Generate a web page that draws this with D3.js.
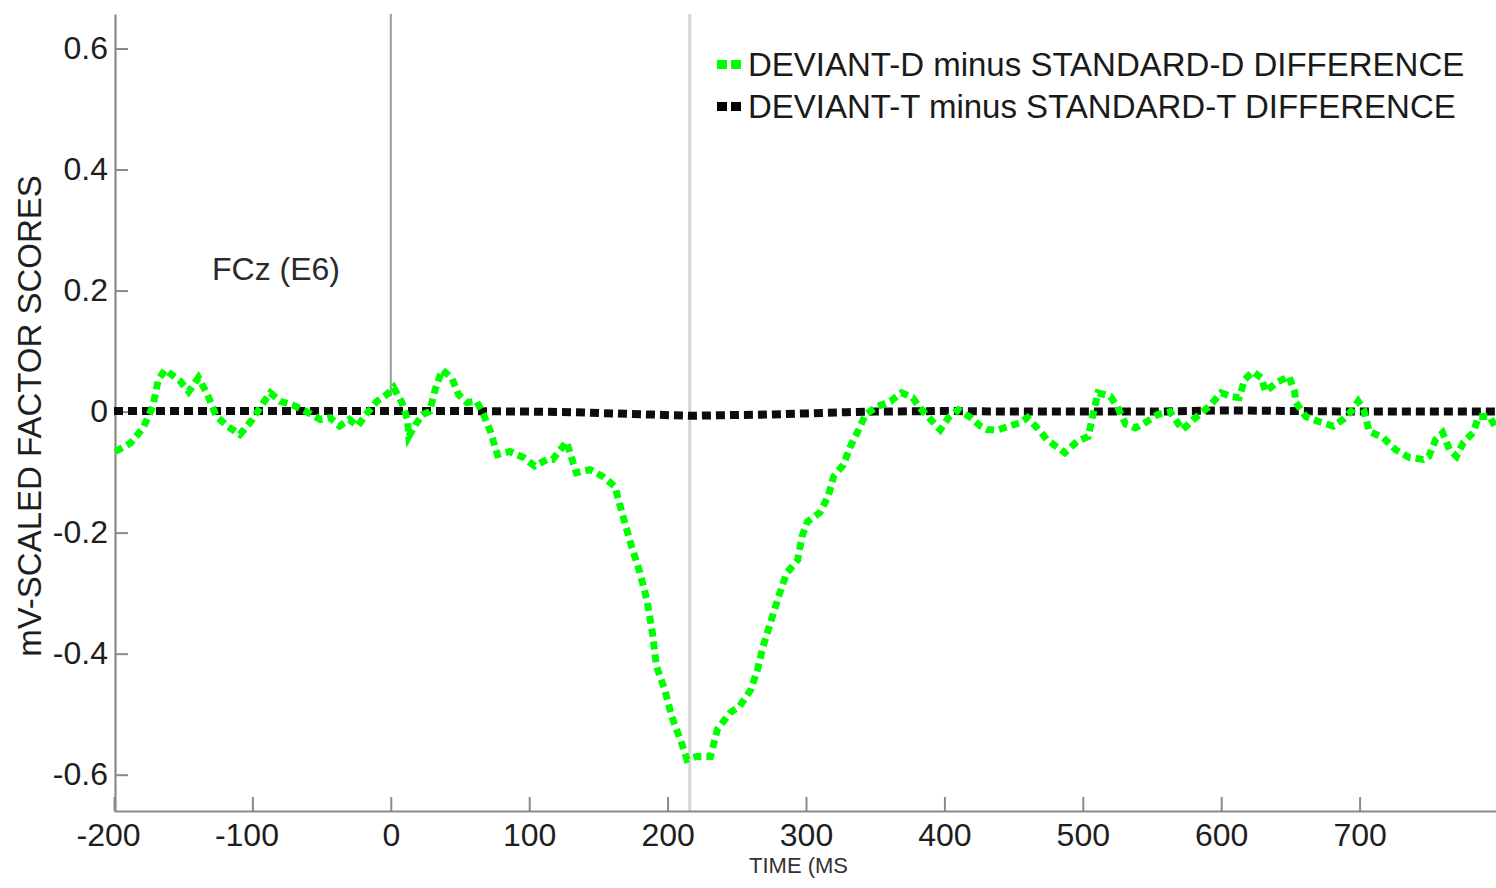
<!DOCTYPE html>
<html>
<head>
<meta charset="utf-8">
<script src="https://cdn.jsdelivr.net/npm/d3@7"></script>
<style>
  html, body { margin: 0; padding: 0; background: #fff; }
  svg { display: block; }
  text { font-family: "Liberation Sans", Arial, Helvetica, sans-serif; }
</style>
</head>
<body>
<svg id="chart" width="1496" height="888"></svg>
<script>
// ---- data ----
const greenTimes = [-199,-188,-179,-172,-168,-163,-152,-146,-139,-133,-126,-118,-109,-100,-92,-87,-80,-71,-61,-51,-44,-37,-30,-24,-17,-10,-3,2,8,12,13,18,23,28,32,37,44,49,55,62,67,72,77,86,96,104,113,117,127,134,144,153,162,167,174,180,185,189,192,198,203,210,214,221,231,236,245,252,260,265,269,275,281,286,294,297,301,310,316,320,327,332,338,343,351,361,369,377,382,392,397,403,410,419,426,431,439,447,455,460,467,474,481,487,496,504,507,511,520,525,531,538,546,554,563,572,580,591,600,607,613,617,623,629,632,640,649,653,654,661,671,681,688,695,699,703,707,717,726,736,746,750,755,760,765,770,775,782,786,794,799];
const greenValues = [-0.066,-0.052,-0.027,0.008,0.053,0.069,0.05,0.033,0.056,0.031,-0.008,-0.024,-0.038,-0.013,0.015,0.031,0.017,0.011,0.0,-0.013,-0.01,-0.024,-0.013,-0.024,-0.002,0.017,0.028,0.04,0.015,-0.013,-0.041,-0.021,-0.005,0,0.036,0.069,0.056,0.028,0.015,0.017,-0.005,-0.033,-0.071,-0.066,-0.076,-0.09,-0.079,-0.079,-0.05,-0.101,-0.096,-0.107,-0.124,-0.167,-0.223,-0.266,-0.311,-0.365,-0.421,-0.46,-0.504,-0.547,-0.575,-0.57,-0.57,-0.525,-0.498,-0.487,-0.46,-0.426,-0.388,-0.344,-0.3,-0.267,-0.245,-0.207,-0.182,-0.167,-0.14,-0.107,-0.088,-0.058,-0.03,-0.005,0.008,0.017,0.031,0.023,0.007,-0.018,-0.03,-0.01,0.003,-0.01,-0.024,-0.03,-0.03,-0.024,-0.018,-0.01,-0.027,-0.046,-0.058,-0.068,-0.049,-0.041,-0.008,0.031,0.025,0.008,-0.021,-0.027,-0.017,-0.005,0,-0.03,-0.013,0.008,0.031,0.025,0.023,0.053,0.066,0.056,0.033,0.048,0.058,0.033,0.015,-0.008,-0.017,-0.024,-0.013,0.003,0.017,0.003,-0.033,-0.043,-0.063,-0.076,-0.079,-0.074,-0.046,-0.035,-0.063,-0.074,-0.051,-0.035,-0.008,-0.008,-0.03];

const blackTimes = [-200,-150,-100,-50,0,50,100,130,160,190,216,240,270,300,330,350,400,450,500,550,600,650,700,750,800];
const blackValues = [0.001,0.001,0.001,0.001,0.001,0.001,0.0,-0.001,-0.003,-0.005,-0.007,-0.006,-0.005,-0.003,-0.001,0.0,0.001,0.0,0.0,0.0,0.002,0.001,0.0,0.0,0.0];

const xTicks = [-200,-100,0,100,200,300,400,500,600,700];
const yTicks = [-0.6,-0.4,-0.2,0,0.2,0.4,0.6];
const xTickLabels = ["-200","-100","0","100","200","300","400","500","600","700"];
const yTickLabels = ["-0.6","-0.4","-0.2","0","0.2","0.4","0.6"];
const seriesNames = ["DEVIANT-D minus STANDARD-D DIFFERENCE", "DEVIANT-T minus STANDARD-T DIFFERENCE"];
const seriesColors = ["#00ff00", "#000000"];
const markerTimes = [0, 216];

// ---- scales ----
const svg = d3.select("#chart");
const x = d3.scaleLinear().domain([-200, 800]).range([114, 1498]);
const y = d3.scaleLinear().domain([-0.66, 0.657]).range([811, 14]);

// vertical marker lines
svg.append("line")
  .attr("x1", x(markerTimes[1])).attr("x2", x(markerTimes[1]))
  .attr("y1", y(0.657)).attr("y2", y(-0.66))
  .attr("stroke", "#d6d6d6").attr("stroke-width", 3);
svg.append("line")
  .attr("x1", x(markerTimes[0])).attr("x2", x(markerTimes[0]))
  .attr("y1", y(0.657)).attr("y2", y(0.025))
  .attr("stroke", "#9a9a9a").attr("stroke-width", 2);

// axes
const xAxis = d3.axisBottom(x).tickValues(xTicks).tickSizeInner(-14).tickSizeOuter(0).tickPadding(12)
  .tickFormat((d, i) => xTickLabels[i]);
const yAxis = d3.axisLeft(y).tickValues(yTicks).tickSizeInner(-13).tickSizeOuter(0).tickPadding(7)
  .tickFormat((d, i) => yTickLabels[i]);

const gx = svg.append("g").attr("transform", "translate(0,811)").call(xAxis);
const gy = svg.append("g").attr("transform", "translate(115,0)").call(yAxis);

[gx, gy].forEach(g => {
  g.select(".domain").attr("stroke", "#8a8a8a").attr("stroke-width", 2.2);
  g.selectAll(".tick line").attr("stroke", "#8a8a8a").attr("stroke-width", 2);
  g.selectAll(".tick text").attr("font-size", 32).attr("fill", "#1e1e1e")
    .style("font-family", "'Liberation Sans', Arial, sans-serif");
});
gx.selectAll(".tick text").attr("dx", d => d < 0 ? -6 : 0);

// lines
const line = d3.line().x(d => x(d[0])).y(d => y(d[1]));
const blackData = blackTimes.map((t, i) => [t, blackValues[i]]);
const greenData = greenTimes.map((t, i) => [t, greenValues[i]]);

svg.append("path").datum(blackData).attr("d", line)
  .attr("fill", "none").attr("stroke", seriesColors[1]).attr("stroke-width", 8)
  .attr("stroke-dasharray", "9 5").attr("opacity", 0.95);
svg.append("path").datum(greenData).attr("d", line)
  .attr("fill", "none").attr("stroke", seriesColors[0]).attr("stroke-width", 7)
  .attr("stroke-dasharray", "8 5").attr("stroke-linejoin", "miter");

// legend
const legendY = [64, 106];
seriesNames.forEach((name, i) => {
  [717, 731].forEach(mx => {
    svg.append("rect").attr("x", mx).attr("y", legendY[i] - 4).attr("width", 10).attr("height", 9)
      .attr("fill", seriesColors[i]);
  });
  svg.append("text").attr("x", 748).attr("y", legendY[i] + 12)
    .attr("font-size", 33).attr("fill", "#1a1a1a").text(name);
});

// annotation
svg.append("text").attr("x", 212).attr("y", 280).attr("font-size", 32).attr("fill", "#2a2a2a").text("FCz (E6)");

// axis titles
svg.append("text").attr("transform", "translate(41,416) rotate(-90)")
  .attr("text-anchor", "middle").attr("font-size", 33).attr("fill", "#1e1e1e")
  .text("mV-SCALED FACTOR SCORES");
svg.append("text").attr("x", 749).attr("y", 873).attr("font-size", 22).attr("fill", "#333")
  .text("TIME (MS");
</script>
</body>
</html>
